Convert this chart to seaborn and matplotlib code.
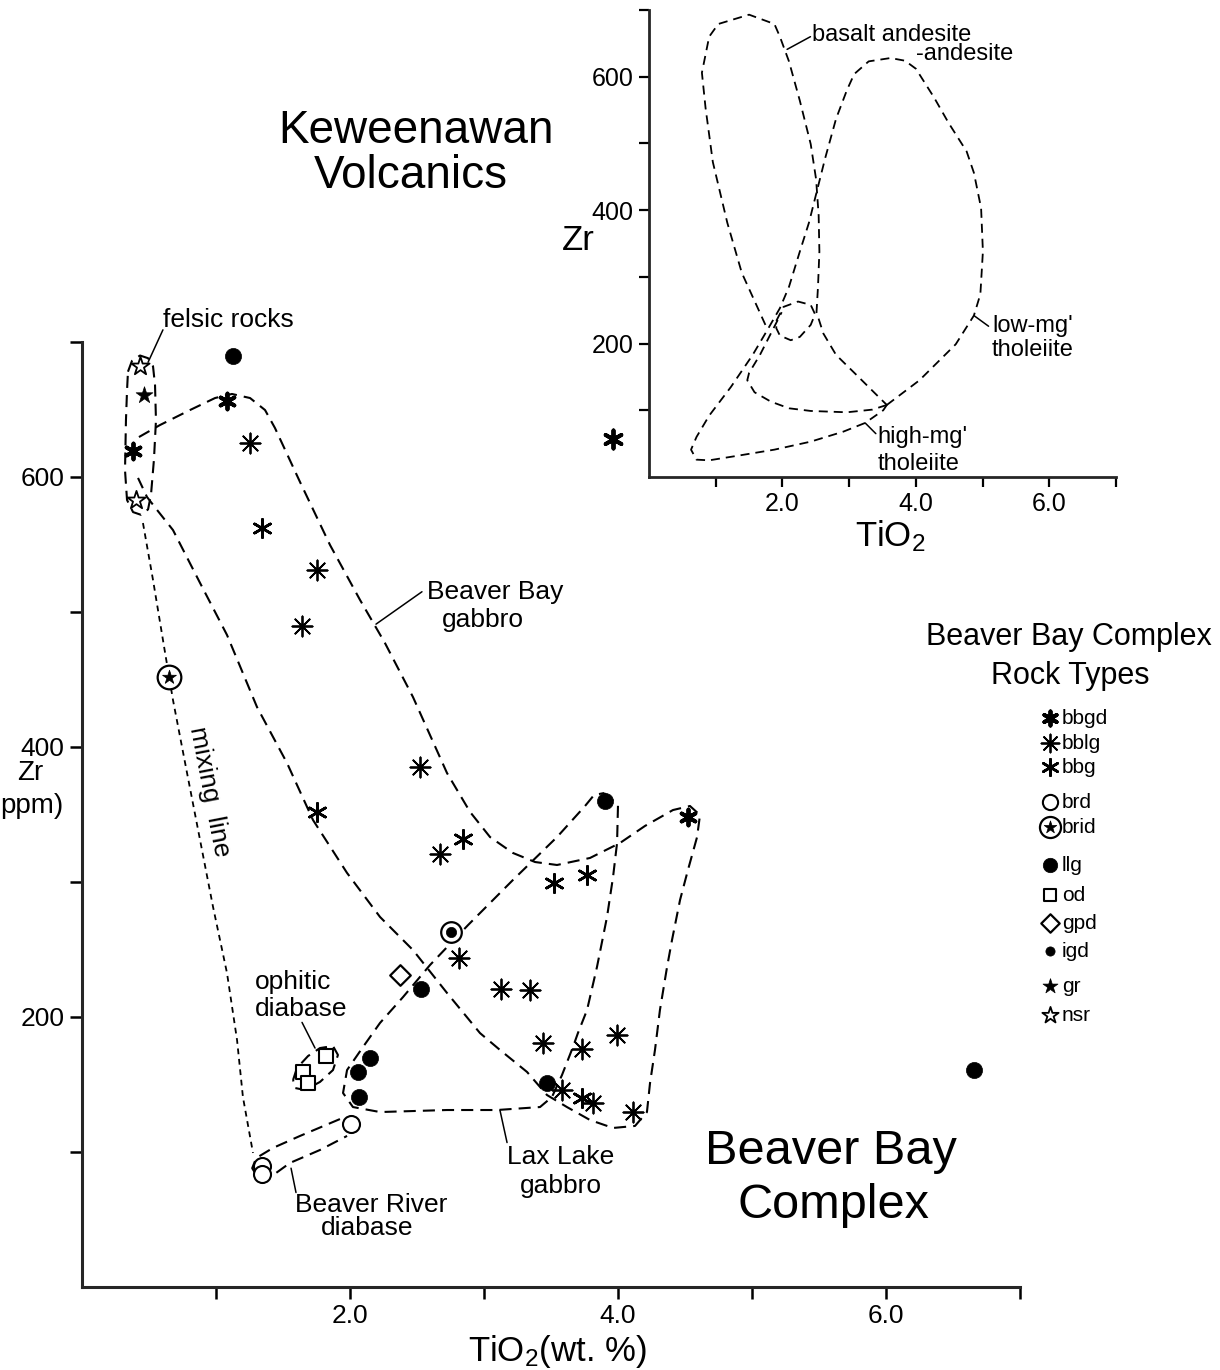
import matplotlib
matplotlib.use("Agg")
import matplotlib.pyplot as plt
import numpy as np
import pandas as pd
import seaborn as sns

# ---------------------------------------------------------------------------
# Beaver Bay Complex analyses: TiO2 (wt. %) and Zr (ppm) for each rock type
# ---------------------------------------------------------------------------
bbgd_tio2 = [0.38, 1.08, 4.52]
bbgd_zr = [619, 656, 348]
bblg_tio2 = [1.25, 1.75, 1.64, 2.52, 2.67, 2.81, 3.13, 3.34, 3.44, 3.73, 3.99, 3.58, 3.81, 4.11]
bblg_zr = [625, 531, 490, 385, 321, 244, 221, 220, 181, 176, 187, 146, 136, 130]
bbg_tio2 = [1.34, 1.75, 2.84, 3.52, 3.77, 3.73]
bbg_zr = [562, 352, 332, 299, 305, 140]
brd_tio2 = [2.01, 1.34, 1.34]
brd_zr = [121, 90, 84]
brid_tio2 = [0.65]
brid_zr = [452]
llg_tio2 = [1.13, 3.90, 2.53, 2.15, 2.06, 2.07, 3.47, 6.66]
llg_zr = [690, 360, 221, 170, 159, 141, 151, 161]
od_tio2 = [1.82, 1.65, 1.69]
od_zr = [171, 159, 151]
gpd_tio2 = [2.37]
gpd_zr = [231]
igd_tio2 = [2.75]
igd_zr = [263]
gr_tio2 = [0.46]
gr_zr = [661]
nsr_tio2 = [0.43, 0.40]
nsr_zr = [682, 583]

# Keweenawan volcanics key symbol (inset)
kew_tio2 = [-0.54]
kew_zr = [57]

rock_order = ["bbgd", "bblg", "bbg", "brd", "brid", "llg", "od", "gpd", "igd", "gr", "nsr"]
tick_x = [1, 2, 3, 4, 5, 6, 7]
tick_x_labels = ["", "2.0", "", "4.0", "", "6.0", ""]
tick_y = [100, 200, 300, 400, 500, 600, 700]
tick_y_labels = ["", "200", "", "400", "", "600", ""]

# ---------------------------------------------------------------------------
# Field outlines (TiO2, Zr) of the main diagram
# ---------------------------------------------------------------------------
felsic_field = [(0.343, 678), (0.373, 686), (0.433, 690), (0.493, 688), (0.530, 682),
                (0.545, 668), (0.552, 642), (0.537, 613), (0.515, 587), (0.493, 576),
                (0.440, 572), (0.381, 574), (0.336, 583), (0.321, 605), (0.328, 642),
                (0.336, 664), (0.343, 678)]

beaver_bay_gabbro_field = [
    (0.425, 629.6), (0.582, 638.5), (0.806, 649.6), (0.993, 658.5), (1.119, 661.5),
    (1.254, 658.5), (1.366, 649.6), (1.440, 636.3), (1.627, 596.3), (1.851, 549.6),
    (2.075, 508.9), (2.261, 477.0), (2.470, 437.0), (2.724, 380.7), (2.896, 351.9),
    (3.045, 333.3), (3.216, 321.5), (3.381, 314.8), (3.545, 312.6), (3.791, 317.8),
    (4.015, 328.9), (4.201, 341.5), (4.410, 353.3), (4.537, 356.3), (4.612, 349.6),
    (4.590, 333.3), (4.522, 308.9), (4.463, 286.7), (4.403, 257.0), (4.366, 237.0),
    (4.313, 205.2), (4.276, 175.6), (4.239, 151.1), (4.216, 129.6), (4.127, 119.3),
    (3.963, 117.8), (3.791, 123.7), (3.619, 133.3), (3.470, 142.2), (3.321, 159.3),
    (3.119, 175.6), (2.970, 188.1), (2.724, 217.8), (2.470, 249.6), (2.224, 274.1),
    (1.978, 306.7), (1.724, 345.9), (1.530, 388.1), (1.306, 429.6), (1.082, 483.0),
    (0.881, 521.5), (0.679, 560.7), (0.560, 575.6), (0.485, 585.2), (0.418, 599.3)]

lax_lake_field = [
    (3.896, 365.9), (4.000, 357.0), (3.993, 328.9), (3.963, 303.7), (3.918, 274.1),
    (3.843, 237.0), (3.769, 205.2), (3.701, 188.1), (3.664, 177.8), (3.582, 157.0),
    (3.507, 140.7), (3.418, 133.3), (3.097, 131.1), (2.724, 131.1), (2.224, 129.6),
    (2.022, 133.3), (1.948, 143.7), (1.978, 160.7), (2.097, 177.8), (2.224, 195.6),
    (2.396, 214.8), (2.597, 238.5), (2.881, 268.1), (3.216, 301.5), (3.545, 333.3),
    (3.754, 356.3), (3.821, 364.4), (3.896, 365.9)]

beaver_river_field = [(1.925, 124.4), (1.627, 111.9), (1.425, 103.0), (1.300, 95.5),
                      (1.270, 88.0), (1.310, 81.5), (1.400, 81.0), (1.552, 91.9),
                      (1.776, 101.5), (1.978, 111.9)]

ophitic_field = [(1.575, 153.3), (1.604, 162.2), (1.687, 171.1), (1.776, 177.0),
                 (1.873, 178.5), (1.910, 171.9), (1.873, 160.7), (1.776, 151.9),
                 (1.664, 145.9), (1.590, 147.4), (1.575, 153.3)]

mixing_line = [(0.455, 565.9), (0.530, 523.7), (0.619, 470.4), (0.679, 434.8),
               (0.784, 380.7), (0.881, 331.1), (0.978, 281.5), (1.082, 232.6),
               (1.157, 183.0), (1.201, 140.7), (1.276, 99.3)]

# ---------------------------------------------------------------------------
# Keweenawan volcanic fields (inset)
# ---------------------------------------------------------------------------
basalt_andesite_field = [
    (1.745, 228), (1.609, 258), (1.391, 306), (1.174, 381), (0.957, 472), (0.848, 553),
    (0.793, 606), (0.902, 660), (1.038, 679), (1.500, 693), (1.880, 679), (1.962, 660),
    (2.098, 623), (2.261, 564), (2.424, 499), (2.505, 446), (2.543, 392), (2.554, 338),
    (2.533, 285), (2.511, 247), (2.614, 215), (2.804, 183), (3.130, 151), (3.402, 124),
    (3.565, 108)]

low_mg_field = [
    (3.565, 108), (4.054, 145), (4.598, 199), (4.870, 242), (4.967, 274), (5.005, 338),
    (4.978, 403), (4.870, 456), (4.761, 488), (4.489, 531), (4.272, 569), (4.000, 612),
    (3.837, 624), (3.620, 628), (3.293, 623), (3.076, 604), (2.967, 580), (2.804, 537),
    (2.641, 478), (2.505, 424), (2.397, 381), (2.261, 338), (2.098, 285), (1.962, 253),
    (1.772, 220), (1.554, 183), (1.228, 135), (0.902, 92), (0.712, 60), (0.630, 41),
    (0.712, 26), (0.902, 25), (1.337, 32), (1.880, 41), (2.424, 53), (2.913, 68),
    (3.239, 81), (3.511, 100), (3.565, 108)]

high_mg_field = [
    (3.565, 108), (3.348, 101), (2.967, 97), (2.424, 99), (2.098, 103), (1.826, 113),
    (1.582, 127), (1.473, 145), (1.500, 156), (1.663, 183), (1.826, 215), (1.989, 247)]

small_field = [(1.908, 234), (2.016, 255), (2.234, 263), (2.424, 258), (2.489, 244),
               (2.424, 228), (2.261, 210), (2.125, 205), (1.962, 212), (1.908, 223),
               (1.908, 234)]

# ---------------------------------------------------------------------------
# Tidy table of the analyses
# ---------------------------------------------------------------------------
series = {
    "bbgd": (bbgd_tio2, bbgd_zr), "bblg": (bblg_tio2, bblg_zr), "bbg": (bbg_tio2, bbg_zr),
    "brd": (brd_tio2, brd_zr), "brid": (brid_tio2, brid_zr), "llg": (llg_tio2, llg_zr),
    "od": (od_tio2, od_zr), "gpd": (gpd_tio2, gpd_zr), "igd": (igd_tio2, igd_zr),
    "gr": (gr_tio2, gr_zr), "nsr": (nsr_tio2, nsr_zr),
}
points = pd.concat(
    [pd.DataFrame({"tio2": xs, "zr": ys, "rock": name}) for name, (xs, ys) in series.items()],
    ignore_index=True)

INK = "black"
styles = {
    "bbgd": dict(marker=(6, 2, 0), s=130, linewidth=2.8, color=INK),
    "bblg": dict(marker=(8, 2, 0), s=210, linewidth=1.3, color=INK),
    "bbg": dict(marker=(6, 2, 0), s=175, linewidth=1.9, color=INK),
    "brd": dict(marker="o", s=150, facecolor="white", edgecolor=INK, linewidth=1.5),
    "brid": dict(marker="*", s=110, color=INK, edgecolor=INK, linewidth=0.5),
    "llg": dict(marker="o", s=135, color=INK, edgecolor=INK, linewidth=0.5),
    "od": dict(marker="s", s=100, facecolor="white", edgecolor=INK, linewidth=1.5),
    "gpd": dict(marker="D", s=110, facecolor="white", edgecolor=INK, linewidth=1.6),
    "igd": dict(marker="o", s=55, color=INK, edgecolor=INK, linewidth=0.5),
    "gr": dict(marker="*", s=160, color=INK, edgecolor=INK, linewidth=0.5),
    "nsr": dict(marker="*", s=190, facecolor="white", edgecolor=INK, linewidth=1.3),
}
ring = dict(marker="o", facecolor="white", edgecolor=INK, linewidth=1.6)

# ---------------------------------------------------------------------------
# Figure
# ---------------------------------------------------------------------------
sns.set_style("ticks")
plt.rcParams["font.family"] = ["Liberation Sans", "DejaVu Sans"]
plt.rcParams["mathtext.default"] = "regular"

W, H = 1220, 1370
fig = plt.figure(figsize=(W / 100, H / 100), dpi=100)
ax = fig.add_axes([82 / W, 1 - 1287 / H, (1020 - 82) / W, (1287 - 342) / H])
inset = fig.add_axes([649 / W, 1 - 477 / H, (1116 - 649) / W, (477 - 10) / H])

field_dash = (0, (5.8, 3.4))
fine_dash = (0, (3.2, 2.6))


def draw_outline(axis, pts, ls, lw):
    xs, ys = zip(*pts)
    axis.plot(xs, ys, color=INK, lw=lw, ls=ls, zorder=2, clip_on=False,
              solid_capstyle="butt", dash_capstyle="butt")


for field in (felsic_field, beaver_bay_gabbro_field, lax_lake_field,
              beaver_river_field, ophitic_field):
    draw_outline(ax, field, field_dash, 1.5)
draw_outline(ax, mixing_line, fine_dash, 1.3)

# rings behind the bull's-eye and circled-star symbols
sns.scatterplot(x=brid_tio2, y=brid_zr, ax=ax, s=290, zorder=3, legend=False, **ring)
sns.scatterplot(x=igd_tio2, y=igd_zr, ax=ax, s=220, zorder=3, legend=False, **ring)

for rock in rock_order:
    sub = points[points["rock"] == rock]
    sns.scatterplot(data=sub, x="tio2", y="zr", ax=ax, zorder=4, legend=False,
                    clip_on=False, **styles[rock])

# leader lines and field names
leaders = [((0.493, 685), (0.604, 709)), ((2.194, 491), (2.537, 515)),
           ((1.739, 177), (1.642, 196)), ((3.119, 131), (3.172, 107)),
           ((1.560, 88), (1.597, 70))]
for (x0, y0), (x1, y1) in leaders:
    ax.plot([x0, x1], [y0, y1], color=INK, lw=1.1, clip_on=False, zorder=2)

label_kw = dict(fontsize=19, color=INK, ha="center", va="center")
ax.text(1.09, 716, "felsic rocks", **label_kw)
ax.text(3.08, 515, "Beaver Bay", **label_kw)
ax.text(2.99, 494, "gabbro", **label_kw)
ax.text(1.29, 226, "ophitic", fontsize=19, color=INK, ha="left", va="center")
ax.text(1.29, 206, "diabase", fontsize=19, color=INK, ha="left", va="center")
ax.text(3.57, 96, "Lax Lake", **label_kw)
ax.text(3.57, 75, "gabbro", **label_kw)
ax.text(2.16, 61, "Beaver River", **label_kw)
ax.text(2.13, 44, "diabase", **label_kw)
ax.text(0.95, 367, "mixing  line", fontsize=19, color=INK, ha="center", va="center",
        rotation=-79, rotation_mode="anchor")

ax.set_xlim(0, 7)
ax.set_ylim(0, 700)
ax.set_xticks(tick_x, tick_x_labels)
ax.set_yticks(tick_y, tick_y_labels)
ax.set_xlabel("")
ax.set_ylabel("")
sns.despine(ax=ax)
for side in ("left", "bottom"):
    ax.spines[side].set_linewidth(2.2)
ax.tick_params(axis="both", direction="out", length=8.5, width=1.8, labelsize=19,
               pad=4, colors=INK)
ax.patch.set_alpha(0)

# ---------------------------------------------------------------------------
# Inset: Keweenawan volcanics
# ---------------------------------------------------------------------------
inset_dash = (0, (5.0, 3.3))
for field in (basalt_andesite_field, low_mg_field, high_mg_field, small_field):
    draw_outline(inset, field, inset_dash, 1.3)

sns.scatterplot(x=kew_tio2, y=kew_zr, ax=inset, zorder=4, legend=False, clip_on=False,
                **dict(styles["bbgd"], s=170))

inset_leaders = [((2.07, 641), (2.42, 660)), ((4.87, 242), (5.09, 226)),
                 ((3.24, 81), (3.40, 65))]
for (x0, y0), (x1, y1) in inset_leaders:
    inset.plot([x0, x1], [y0, y1], color=INK, lw=1.1, zorder=2)

ilabel = dict(fontsize=17, color=INK, ha="left", va="center")
inset.text(2.45, 663, "basalt andesite", **ilabel)
inset.text(4.00, 634, "-andesite", **ilabel)
inset.text(5.14, 227, "low-mg'", **ilabel)
inset.text(5.14, 190, "tholeiite", **ilabel)
inset.text(3.43, 60, "high-mg'", **ilabel)
inset.text(3.43, 20, "tholeiite", **ilabel)

inset.set_xlim(0, 7)
inset.set_ylim(0, 700)
inset.set_xticks(tick_x, tick_x_labels)
inset.set_yticks(tick_y, tick_y_labels)
inset.set_xlabel("")
inset.set_ylabel("")
sns.despine(ax=inset)
for side in ("left", "bottom"):
    inset.spines[side].set_linewidth(2.0)
inset.tick_params(axis="both", direction="out", length=7, width=1.6, labelsize=18,
                  pad=4, colors=INK)
inset.patch.set_alpha(0)

# ---------------------------------------------------------------------------
# Titles, axis names and rock-type key on a page-sized overlay
# ---------------------------------------------------------------------------
page = fig.add_axes([0, 0, 1, 1])
page.set_xlim(0, W)
page.set_ylim(H, 0)
page.axis("off")

page.text(416, 143, "Keweenawan", fontsize=33, ha="center", va="baseline", color=INK)
page.text(411, 188, "Volcanics", fontsize=33, ha="center", va="baseline", color=INK)
page.text(831, 1164, "Beaver Bay", fontsize=35, ha="center", va="baseline", color=INK)
page.text(834, 1218, "Complex", fontsize=35, ha="center", va="baseline", color=INK)

page.text(557, 1352, r"TiO$_2$(wt. %)", fontsize=25, ha="center", va="center", color=INK)
page.text(30, 773, "Zr", fontsize=20, ha="center", va="center", color=INK)
page.text(0, 806, "ppm)", fontsize=20, ha="left", va="center", color=INK)
page.text(578, 240, "Zr", fontsize=25, ha="center", va="center", color=INK)
page.text(890, 536, r"TiO$_2$", fontsize=25, ha="center", va="center", color=INK)

page.text(1069, 637, "Beaver Bay Complex", fontsize=22, ha="center", va="center", color=INK)
page.text(1070, 676, "Rock Types", fontsize=22, ha="center", va="center", color=INK)

key_rows = [718, 743, 767, 802, 827, 865, 895, 923, 951, 986, 1015]
key_x = 1050
for rock, row in zip(rock_order, key_rows):
    st = dict(styles[rock])
    if rock == "brid":
        sns.scatterplot(x=[key_x], y=[row], ax=page, s=230, zorder=3, legend=False, **ring)
        st["s"] = 90
    else:
        st["s"] = st["s"] * 0.8
    sns.scatterplot(x=[key_x], y=[row], ax=page, zorder=4, legend=False, **st)
    page.text(key_x + 12, row, rock, fontsize=15, ha="left", va="center", color=INK)

page.set_xlim(0, W)
page.set_ylim(H, 0)
page.axis("off")

fig.savefig("out.png", dpi=100, facecolor="white")
